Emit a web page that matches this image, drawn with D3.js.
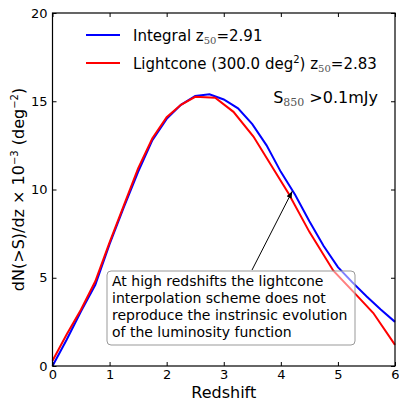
<!DOCTYPE html>
<html>
<head>
<meta charset="utf-8">
<script src="https://cdn.jsdelivr.net/npm/d3@7"></script>
<style>
  body { margin: 0; background: #fff; }
  svg text { font-family: "DejaVu Sans", sans-serif; }
</style>
</head>
<body>
<div id="chart"></div>
<script>
// integral curve (blue)
const zIntegral = [0, 0.25, 0.5, 0.75, 1.0, 1.25, 1.5, 1.75, 2.0, 2.25, 2.5, 2.75, 3.0, 3.25, 3.5, 3.75, 4.0, 4.25, 4.5, 4.75, 5.0, 5.25, 5.5, 5.75, 6.0];
const nIntegral = [0, 1.5, 3.1, 4.6, 6.9, 9.0, 11.0, 12.8, 14.0, 14.8, 15.3, 15.4, 15.1, 14.6, 13.7, 12.5, 11.0, 9.7, 8.2, 6.8, 5.6, 4.75, 3.95, 3.2, 2.5];
// lightcone curve (red)
const zLightcone = [0, 0.25, 0.5, 0.75, 1.0, 1.25, 1.5, 1.75, 2.0, 2.25, 2.5, 2.85, 3.17, 3.52, 4.13, 4.5, 4.92, 5.33, 5.62, 6.0];
const nLightcone = [0.3, 1.8, 3.2, 4.8, 7.0, 9.1, 11.2, 12.9, 14.1, 14.8, 15.25, 15.2, 14.4, 13.0, 9.8, 7.6, 5.4, 4.0, 3.0, 1.2];

const xTicks = [0, 1, 2, 3, 4, 5, 6];
const yTicks = [0, 5, 10, 15, 20];

const W = 399, H = 401;
const margin = { top: 13, right: 4, bottom: 35, left: 52.5 };
const width = W - margin.left - margin.right;
const height = H - margin.top - margin.bottom;

const svg = d3.select("#chart").append("svg")
  .attr("width", W).attr("height", H);

const x = d3.scaleLinear().domain([0, 6]).range([0, width]);
const y = d3.scaleLinear().domain([0, 20]).range([height, 0]);

const g = svg.append("g").attr("transform", `translate(${margin.left},${margin.top})`);

const line = d3.line().x(d => x(d[0])).y(d => y(d[1]));

g.append("path")
  .datum(zIntegral.map((z, i) => [z, nIntegral[i]]))
  .attr("d", line).attr("fill", "none").attr("stroke", "#0000ff").attr("stroke-width", 2);

g.append("path")
  .datum(zLightcone.map((z, i) => [z, nLightcone[i]]))
  .attr("d", line).attr("fill", "none").attr("stroke", "#ff0000").attr("stroke-width", 2);

// axes with inward ticks
const tickStyle = sel => {
  sel.select(".domain").remove();
  sel.selectAll("line").attr("stroke", "#000");
  sel.selectAll("text").attr("font-size", 13).attr("fill", "#000")
    .style("font-family", "DejaVu Sans");
};
g.append("g").attr("transform", `translate(0,${height})`)
  .call(d3.axisBottom(x).tickValues(xTicks).tickSizeInner(-4).tickPadding(4).tickFormat(d3.format("d")))
  .call(tickStyle);
g.append("g")
  .call(d3.axisTop(x).tickValues(xTicks).tickSizeInner(-4).tickFormat(""))
  .call(tickStyle);
g.append("g")
  .call(d3.axisLeft(y).tickValues(yTicks).tickSizeInner(-4).tickPadding(5).tickFormat(d3.format("d")))
  .call(tickStyle);
g.append("g").attr("transform", `translate(${width},0)`)
  .call(d3.axisRight(y).tickValues(yTicks).tickSizeInner(-4).tickFormat(""))
  .call(tickStyle);

g.append("rect").attr("width", width).attr("height", height)
  .attr("fill", "none").attr("stroke", "#000").attr("stroke-width", 1.2);

// axis labels
svg.append("text")
  .attr("x", margin.left + width / 2).attr("y", 398)
  .attr("text-anchor", "middle").attr("font-size", 16).text("Redshift");

const yl = svg.append("text")
  .attr("transform", `translate(24,${margin.top + height / 2}) rotate(-90)`)
  .attr("text-anchor", "middle").attr("font-size", 16);
yl.append("tspan").text("dN(>S)/dz \u00d7 10");
yl.append("tspan").attr("font-size", 10).attr("dy", -6).text("\u22123");
yl.append("tspan").attr("dy", 6).text(" (deg");
yl.append("tspan").attr("font-size", 10).attr("dy", -6).text("\u22122");
yl.append("tspan").attr("dy", 6).text(")");

// legend
const legend = [
  { color: "#0000ff", y: 35, parts: ["Integral z", "50", "=2.91"] },
  { color: "#ff0000", y: 63, parts: ["Lightcone (300.0 deg", "2", ") z", "50", "=2.83"] }
];
legend.forEach(d => {
  svg.append("line").attr("x1", 86).attr("x2", 120).attr("y1", d.y).attr("y2", d.y)
    .attr("stroke", d.color).attr("stroke-width", 2);
  const t = svg.append("text").attr("x", 133).attr("y", d.y + 6).attr("font-size", 15);
  if (d.parts.length === 3) {
    t.append("tspan").text(d.parts[0]);
    t.append("tspan").attr("font-family", "DejaVu Serif").attr("font-size", 10).attr("fill", "#555").attr("dy", 3).text(d.parts[1]);
    t.append("tspan").attr("dy", -3).text(d.parts[2]);
  } else {
    t.append("tspan").text(d.parts[0]);
    t.append("tspan").attr("font-size", 10).attr("dy", -6).text(d.parts[1]);
    t.append("tspan").attr("dy", 6).text(d.parts[2]);
    t.append("tspan").attr("font-family", "DejaVu Serif").attr("font-size", 10).attr("fill", "#555").attr("dy", 3).text(d.parts[3]);
    t.append("tspan").attr("dy", -3).text(d.parts[4]);
  }
});

const s = svg.append("text").attr("x", 378).attr("y", 103).attr("text-anchor", "end").attr("font-size", 16);
s.append("tspan").text("S");
s.append("tspan").attr("font-family", "DejaVu Serif").attr("font-size", 11).attr("fill", "#555").attr("dy", 3).text("850");
s.append("tspan").attr("dy", -3).text(" >0.1mJy");

// annotation
svg.append("defs").append("marker")
  .attr("id", "arrow").attr("viewBox", "0 0 10 10").attr("refX", 10).attr("refY", 5)
  .attr("markerWidth", 7).attr("markerHeight", 7).attr("orient", "auto")
  .append("path").attr("d", "M0,1 L10,5 L0,9 Z").attr("fill", "#000");

svg.append("line").attr("x1", 252).attr("y1", 270).attr("x2", x(4.2) + margin.left).attr("y2", y(9.9) + margin.top)
  .attr("stroke", "#000").attr("stroke-width", 1).attr("marker-end", "url(#arrow)");

svg.append("rect").attr("x", 107).attr("y", 271).attr("width", 248).attr("height", 74)
  .attr("rx", 4).attr("fill", "#fff").attr("fill-opacity", 0.5)
  .attr("stroke", "#999").attr("stroke-width", 1);

const notes = ["At high redshifts the lightcone", "interpolation scheme does not", "reproduce the instrinsic evolution", "of the luminosity function"];
svg.append("g").selectAll("text").data(notes).enter().append("text")
  .attr("x", 112).attr("y", (d, i) => 286 + i * 17)
  .attr("font-size", 14).text(d => d);
</script>
</body>
</html>
